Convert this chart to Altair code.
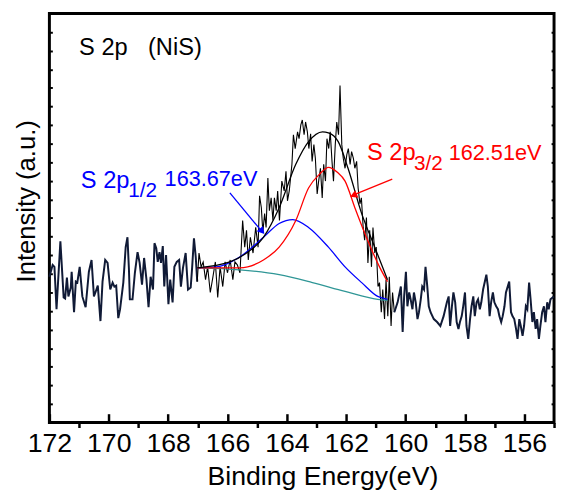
import altair as alt
import pandas as pd

FONT = "Liberation Sans"
NAVY = "#101a36"
TEAL = "#2f9696"

# ---------------- raw spectrum ----------------
e_left = [172.00,171.89,171.83,171.76,171.63,171.52,171.47,171.41,171.36,171.28,
          171.25,171.17,171.11,171.06,170.98,170.89,170.78,170.67,170.58,170.50,
          170.45,170.37,170.28,170.21,170.12,170.04,169.95,169.87,169.81,169.75,
          169.68,169.62,169.51,169.43,169.37,169.32,169.29,169.20,169.12,169.03,
          168.96,168.88,168.81,168.73,168.66,168.59,168.51,168.46,168.40,168.35,
          168.29,168.24,168.18,168.13,168.07,167.99,167.93,167.85,167.79,167.71,
          167.63,167.57,167.50,167.41,167.33,167.24,167.19,167.13,167.07,167.02]
i_left = [148,160,158,115,184,127,126,147,128,137,
          153,112,143,142,158,128,117,153,165,128,
          132,139,103,143,165,162,135,142,138,139,
          106,115,142,178,188,155,125,125,152,173,
          162,140,167,145,117,148,135,182,177,163,
          173,162,179,138,170,120,145,122,158,163,
          165,138,157,172,135,137,158,187,168,143]

e_mid = [167.02,166.96,166.89,166.82,166.74,166.67,166.58,166.49,166.41,166.33,
         166.25,166.16,166.08,166.00,165.91,165.82,165.75,165.67,165.58,165.49,
         165.42,165.36,165.30,165.23,165.14,165.05,164.97,164.92,164.86,164.81,
         164.75,164.70,164.64,164.59,164.53,164.47,164.42,164.36,164.31,164.25,
         164.17,164.09,164.03,163.98,163.92,163.83,163.78,163.72,163.64,163.59,
         163.53,163.48,163.42,163.37,163.31,163.26,163.20,163.15,163.09,163.04,
         162.98,162.93,162.87,162.81,162.76,162.70,162.65,162.59,162.54,162.48,
         162.43,162.37,162.32,162.26,162.21,162.15,162.10,162.04,161.98,161.93,
         161.87,161.82,161.76,161.71,161.65,161.60,161.54,161.49,161.43,161.38,
         161.32,161.27,161.21,161.15,161.10,161.04,160.99,160.93,160.88,160.82,
         160.77,160.71,160.66,160.60,160.55,160.49,160.44,160.38]
i_mid = [143,172,158,163,145,158,132,148,163,127,
         158,138,163,152,165,145,163,160,152,205,
         178,195,165,188,172,198,178,230,218,193,
         212,198,248,215,228,205,228,215,235,205,
         245,235,255,225,235,262,292,278,295,288,
         302,307,292,305,295,278,293,265,282,268,
         232,245,258,228,262,245,288,278,295,265,
         245,282,305,292,342,282,268,258,272,278,
         262,275,268,258,265,238,222,228,198,185,
         208,162,195,158,198,172,178,138,142,112,
         135,105,145,108,148,98,132,112]

e_right = [160.38,160.27,160.16,160.10,160.05,159.99,159.94,159.88,159.83,159.77,
           159.72,159.66,159.60,159.55,159.49,159.44,159.38,159.33,159.27,159.22,
           159.16,159.05,158.94,158.83,158.72,158.61,158.55,158.50,158.44,158.39,
           158.33,158.28,158.22,158.17,158.11,158.06,158.00,157.95,157.89,157.83,
           157.78,157.72,157.67,157.61,157.56,157.50,157.45,157.39,157.28,157.23,
           157.17,157.12,157.06,157.01,156.95,156.89,156.84,156.78,156.73,156.67,
           156.62,156.51,156.45,156.40,156.34,156.28,156.23,156.17,156.12,156.06,
           156.01,155.95,155.90,155.84,155.79,155.73,155.68,155.62,155.57,155.51,
           155.46,155.40,155.34,155.29,155.23,155.18,155.12,155.01]
i_right = [112,122,138,92,128,153,118,132,125,115,
           132,122,105,112,125,138,135,158,138,118,
           112,105,102,98,108,122,128,98,118,132,
           122,102,95,102,108,118,132,98,85,105,
           118,128,108,122,125,115,122,135,150,138,
           108,122,132,122,118,115,108,102,108,118,
           132,143,112,108,105,95,85,105,98,88,
           98,118,115,142,125,102,112,95,105,85,
           98,112,118,102,122,115,125,128]

# ---------------- fitted curves ----------------
e_bg = [167.02,165.59,164.26,163.14,162.04,160.94,160.61]
i_bg = [157,155,150,142,133,125,124]

e_p32 = [167.02,165.59,164.79,164.26,163.70,163.27,162.90,162.60,162.30,162.04,161.71,161.28,160.88,160.61]
i_p32 = [157,157,165,178,205,238,252,259,254,245,218,185,158,143]

e_p12 = [167.02,166.36,165.59,164.79,164.26,163.80,163.27,162.60,162.04,161.48,160.94,160.61]
i_p12 = [157,158,168,188,202,206,198,178,158,142,128,125]

e_env = [167.02,165.92,165.36,164.79,164.26,163.70,163.27,162.80,162.60,162.27,161.94,161.48,161.04,160.61]
i_env = [157,163,172,188,218,262,285,295,294,285,258,212,178,145]

x_labels = [156,158,160,162,164,166,168,170,172]
x_minor = [155,157,159,161,163,165,167,169,171]
y_ticks = [19,38,57,75,94,113,132,151,170,189,208,226,245,264,283,302,321,340,358,377,396]

W, H = 512, 415
xscale = alt.Scale(domain=[155, 172], reverse=True, nice=False, zero=False)
yscale = alt.Scale(domain=[0, 415], nice=False, zero=False)


def df(e, i):
    return pd.DataFrame({"E": e, "I": i})


ax_x_main = alt.Axis(values=x_minor + x_labels, labelExpr="datum.value % 2 === 0 ? datum.label : ''",
                     tickSize=5, tickWidth=2.5, tickColor="black",
                     tickOpacity={"condition": {"test": "datum.value % 2 === 0", "value": 0}, "value": 1},
                     domain=False, grid=False, labelFont=FONT, labelFontSize=27, labelColor="black",
                     labelPadding=3, labelOverlap=False, labelFlush=False,
                     title="Binding Energy(eV)", titleFont=FONT, titleFontSize=27,
                     titleFontWeight="normal", titleColor="black", titleX=277, titleY=55,
                     titleAlign="center", titleBaseline="middle")
ax_x_major = alt.Axis(orient="top", offset=-H, values=x_labels, tickSize=9, tickWidth=2.5,
                      tickColor="black", labels=False, domain=False, grid=False, title=None)
ax_y_title = alt.Axis(title="Intensity (a.u.)", labels=False, ticks=False, domain=False, grid=False,
                      titleFont=FONT, titleFontSize=26, titleFontWeight="normal", titleColor="black",
                      titleAngle=270, titleX=-23, titleY=190, titleAlign="center", titleBaseline="middle")
ax_y_left = alt.Axis(orient="right", offset=-W, values=y_ticks, tickSize=3, tickWidth=2,
                     tickColor="black", labels=False, domain=False, grid=False, title=None)
ax_y_right = alt.Axis(orient="left", offset=-W, values=y_ticks, tickSize=3, tickWidth=2,
                      tickColor="black", labels=False, domain=False, grid=False, title=None)


def line(e, i, color, width, xa=None, ya=None, interp="linear"):
    return alt.Chart(df(e, i)).mark_line(color=color, strokeWidth=width, interpolate=interp).encode(
        x=alt.X("E:Q", scale=xscale, axis=xa),
        y=alt.Y("I:Q", scale=yscale, axis=ya),
    )


def text(e, i, t, color, size, baseline="middle"):
    return alt.Chart(pd.DataFrame({"E": e, "I": i, "t": t})).mark_text(
        align="left", baseline=baseline, font=FONT, fontSize=size, color=color).encode(
        x=alt.X("E:Q", scale=xscale, axis=None),
        y=alt.Y("I:Q", scale=yscale, axis=None),
        text="t:N",
    )


def head(e, i, color, ang):
    return alt.Chart(df(e, i)).mark_point(shape="triangle", filled=True, size=70, angle=ang,
                                          color=color, opacity=1).encode(
        x=alt.X("E:Q", scale=xscale, axis=None),
        y=alt.Y("I:Q", scale=yscale, axis=None),
    )


layers = [
    line(e_left, i_left, NAVY, 2, ax_x_main, ax_y_title),
    line(e_mid, i_mid, "black", 1.1, ax_x_major, ax_y_left),
    line(e_right, i_right, NAVY, 2, None, ax_y_right),
    line(e_bg, i_bg, TEAL, 1.3, interp="monotone"),
    line(e_p12, i_p12, "#0000ff", 1.3, interp="monotone"),
    line(e_p32, i_p32, "#ff0000", 1.3, interp="monotone"),
    line(e_env, i_env, "black", 1.3, interp="monotone"),
    text([171.0, 168.68], [380, 380], ["S 2p", "(NiS)"], "black", 24),
    text([170.94], [245], ["S 2p"], "#0000ff", 24),
    text([168.12], [247], ["163.67eV"], "#0000ff", 22),
    text([169.34], [235], ["1/2"], "#0000ff", 21),
    text([161.30], [273], ["S 2p"], "#ff0000", 24),
    text([158.55], [273], ["162.51eV"], "#ff0000", 22),
    text([159.72], [262], ["3/2"], "#ff0000", 21),
    line([165.92, 164.90], [233, 196], "#0000ff", 1.3),
    head([164.86], [195], "#0000ff", 140),
    line([160.45, 161.67], [247, 232], "#ff0000", 1.3),
    head([161.72], [231], "#ff0000", 247.5),
]

chart = alt.layer(*layers).resolve_axis(x="independent", y="independent").properties(
    width=W, height=H,
    autosize=alt.AutoSizeParams(type="none"),
    padding={"left": 42, "top": 2, "right": 3, "bottom": 80},
    background="white",
).configure_view(stroke="black", strokeWidth=3)

chart.save("out.html", embed_options={"renderer": "svg", "actions": False})
